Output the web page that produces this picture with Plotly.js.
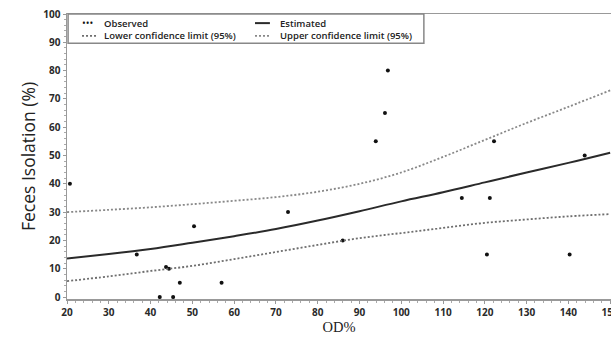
<!DOCTYPE html>
<html><head><meta charset="utf-8">
<script src="https://cdn.plot.ly/plotly-3.0.1.min.js"></script>
<style>html,body{margin:0;padding:0;background:#fff}#c{width:611px;height:338px}</style>
</head><body><div id="c"></div>
<script>
const obsX = [20.7, 36.7, 42.2, 43.7, 44.4, 45.4, 47.0, 50.4, 57.0, 72.9, 86.0, 93.9, 96.1, 96.8, 114.5, 120.5, 121.2, 122.2, 140.3, 143.9];
const obsY = [40, 15, 0, 10.6, 10, 0, 5, 25, 5, 30, 20, 55, 65, 80, 35, 15, 35, 55, 15, 50];
const fitX = [20, 30, 40, 50, 60, 70, 80, 90, 100, 110, 120, 130, 140, 150];
const estY = [13.6, 15.2, 17.0, 19.2, 21.5, 24.0, 27.0, 30.3, 33.8, 37.0, 40.5, 44.0, 47.4, 51.0];
const lowY = [5.6, 7.3, 9.2, 11.0, 13.4, 15.9, 18.4, 20.8, 22.6, 24.4, 26.2, 27.4, 28.5, 29.3];
const upY  = [30.0, 30.8, 31.7, 32.8, 34.0, 35.3, 37.2, 40.0, 44.0, 49.5, 55.5, 61.5, 67.2, 73.0];
const xTicks = [20, 30, 40, 50, 60, 70, 80, 90, 100, 110, 120, 130, 140, 150];
const yTicks = [0, 10, 20, 30, 40, 50, 60, 70, 80, 90, 100];
const legendNames = ['Observed', 'Estimated', 'Lower confidence limit (95%)', 'Upper confidence limit (95%)'];

const dotDash = '2px,2px';
const traces = [
  {x: obsX, y: obsY, mode: 'markers', name: legendNames[0], marker: {color: '#111', size: 4}},
  {x: fitX, y: estY, mode: 'lines', name: legendNames[1], line: {color: '#2a2a2a', width: 2, shape: 'spline'}},
  {x: fitX, y: lowY, mode: 'lines', name: legendNames[2], line: {color: '#6e6e6e', width: 1.8, dash: dotDash, shape: 'spline'}},
  {x: fitX, y: upY, mode: 'lines', name: legendNames[3], line: {color: '#888', width: 1.8, dash: dotDash, shape: 'spline'}}
];

// manual two-column legend (paper coordinates)
const row1 = 0.968, row2 = 0.923;
const legShapes = [
  {type: 'rect', xref: 'paper', yref: 'paper', x0: 0.002, x1: 0.656, y0: 0.897, y1: 1, line: {color: '#888', width: 1.5}, fillcolor: '#fff', layer: 'above'},
  {type: 'line', xref: 'paper', yref: 'paper', x0: 0.3456, x1: 0.373, y0: row1, y1: row1, line: {color: '#2a2a2a', width: 2}, layer: 'above'},
  {type: 'line', xref: 'paper', yref: 'paper', x0: 0.0276, x1: 0.055, y0: row2, y1: row2, line: {color: '#6e6e6e', width: 1.8, dash: dotDash}, layer: 'above'},
  {type: 'line', xref: 'paper', yref: 'paper', x0: 0.3456, x1: 0.373, y0: row2, y1: row2, line: {color: '#888', width: 1.8, dash: dotDash}, layer: 'above'}
];
const legFont = {size: 9.5, color: '#222', family: 'Open Sans, Arial, sans-serif', weight: 600};
const legAnn = [
  {text: '•••', x: 0.024, y: row1 + 0.002, xanchor: 'left', yanchor: 'middle', font: {size: 10, color: '#111'}},
  {text: legendNames[0], x: 0.064, y: row1, xanchor: 'left', yanchor: 'middle', font: legFont},
  {text: legendNames[1], x: 0.388, y: row1, xanchor: 'left', yanchor: 'middle', font: legFont},
  {text: legendNames[2], x: 0.064, y: row2, xanchor: 'left', yanchor: 'middle', font: legFont},
  {text: legendNames[3], x: 0.388, y: row2, xanchor: 'left', yanchor: 'middle', font: legFont}
].map(a => Object.assign({xref: 'paper', yref: 'paper', showarrow: false}, a));

const layout = {
  width: 611, height: 338,
  margin: {l: 67, r: 0, t: 14, b: 39},
  paper_bgcolor: '#fff', plot_bgcolor: '#fff',
  font: {family: 'Open Sans, Arial, sans-serif', color: '#222'},
  showlegend: false,
  shapes: legShapes,
  annotations: legAnn,
  xaxis: {
    range: [20, 150.2], tickvals: xTicks, ticktext: xTicks.map(String),
    showgrid: false, zeroline: false, showline: true, linecolor: '#999', linewidth: 1.5,
    mirror: true, ticks: 'outside', ticklen: 3, tickcolor: '#999', ticklabeloverflow: 'allow',
    minor: {dtick: 2, ticks: 'outside', ticklen: 2, tickcolor: '#aaa'},
    tickfont: {size: 10, color: '#2a2a2a', weight: 'bold'},
    title: {text: 'OD%', font: {size: 14.5, color: '#222', family: 'Liberation Serif, Times New Roman, serif'}, standoff: 4}
  },
  yaxis: {
    range: [-0.7, 100], tickvals: yTicks, ticktext: yTicks.map(String),
    showgrid: false, zeroline: false, showline: true, linecolor: '#999', linewidth: 1.5,
    ticks: 'outside', ticklen: 3, tickcolor: '#999',
    minor: {dtick: 2, ticks: 'outside', ticklen: 2, tickcolor: '#aaa'},
    tickfont: {size: 10, color: '#2a2a2a', weight: 'bold'},
    title: {text: 'Feces Isolation (%)', font: {size: 17.5, color: '#222'}, standoff: 3}
  }
};
Plotly.newPlot('c', traces, layout, {staticPlot: true});
</script></body></html>
